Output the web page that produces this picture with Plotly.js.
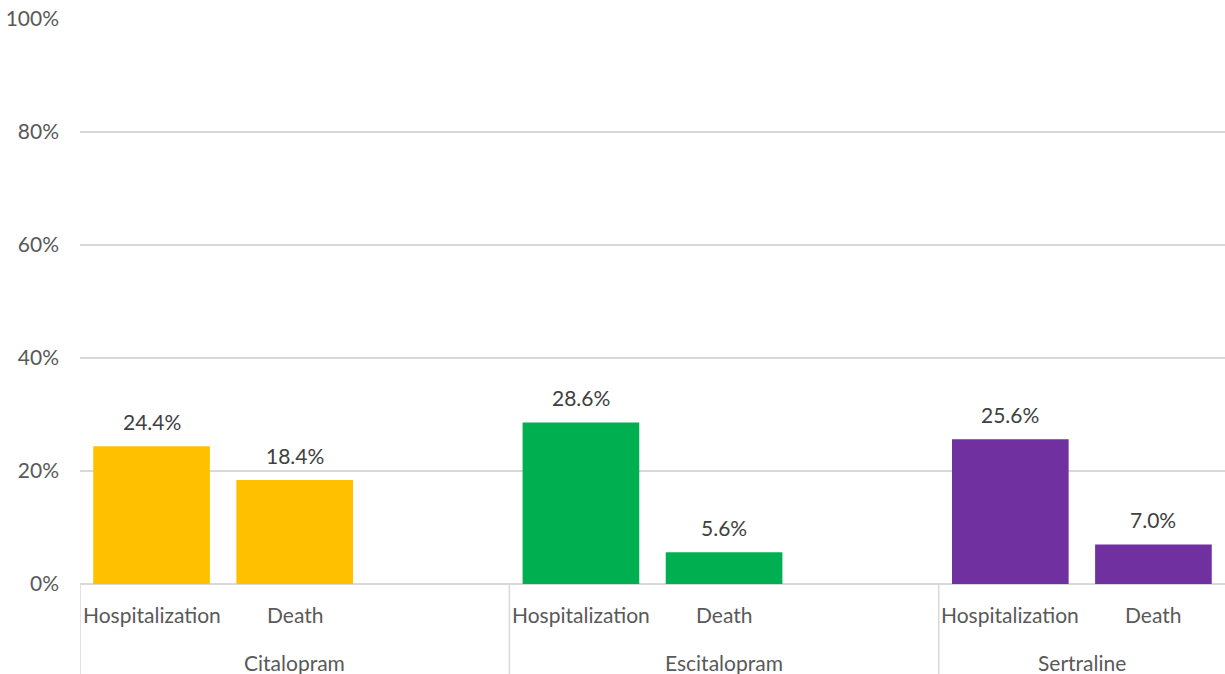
<!DOCTYPE html>
<html>
<head>
<meta charset="utf-8">
<script src="https://cdn.plot.ly/plotly-3.0.1.min.js"></script>
<style>
  html, body { margin: 0; padding: 0; background: #fff; overflow: hidden; }
  #chart { width: 1225px; height: 674px; }
</style>
</head>
<body>
<div id="chart"></div>
<script>
// Data
const drugs = ["Citalopram", "Escitalopram", "Sertraline"];
const measures = ["Hospitalization", "Death"];
const citalopram = [24.4, 18.4];
const escitalopram = [28.6, 5.6];
const sertraline = [25.6, 7.0];
const colors = ["#FFC000", "#00B050", "#7030A0"];

const seriesValues = [citalopram, escitalopram, sertraline];
const slotsPerGroup = 3; // two bars + an empty slot between groups
const FONT = "Lato, 'Open Sans', sans-serif";
const FS = 21;

const traces = [];
const annotations = [];
const shapes = [];

drugs.forEach((drug, g) => {
  const base = g * slotsPerGroup;
  const xs = measures.map((m, i) => base + i);
  traces.push({
    type: "bar",
    x: xs,
    y: seriesValues[g],
    name: drug,
    width: 0.815,
    marker: { color: colors[g] },
    showlegend: false
  });
  xs.forEach((x, i) => {
    annotations.push({
      x: x, y: seriesValues[g][i], xref: "x", yref: "y",
      text: seriesValues[g][i].toFixed(1) + "%",
      showarrow: false, yanchor: "middle", yshift: 25,
      font: { family: FONT, size: FS, color: "#404040" }
    });
    annotations.push({
      x: x, y: 0, xref: "x", yref: "y",
      text: measures[i],
      showarrow: false, yanchor: "middle", yshift: -30,
      font: { family: FONT, size: FS, color: "#595959" }
    });
  });
  const groupEnd = (g === drugs.length - 1) ? base + measures.length - 0.5 : base + slotsPerGroup - 0.5;
  const groupCenter = ((base - 0.5) + groupEnd) / 2;
  annotations.push({
    x: groupCenter, y: 0, xref: "x", yref: "y",
    text: drug,
    showarrow: false, yanchor: "middle", yshift: -78,
    font: { family: FONT, size: FS, color: "#595959" }
  });
  shapes.push({
    type: "line", xref: "x", yref: "paper",
    x0: base - 0.5, x1: base - 0.5, y0: 0, y1: -90 / 565,
    line: { color: "#D9D9D9", width: 1.5 }
  });
});

const layout = {
  width: 1225,
  height: 674,
  margin: { l: 80, r: 0, t: 19, b: 90 },
  paper_bgcolor: "#ffffff",
  plot_bgcolor: "#ffffff",
  barmode: "overlay",
  showlegend: false,
  xaxis: {
    range: [-0.5, 7.5],
    showticklabels: false,
    showgrid: false,
    zeroline: false,
    ticks: "",
    fixedrange: true
  },
  yaxis: {
    range: [0, 100],
    tickvals: [0, 20, 40, 60, 80, 100],
    ticktext: ["0%", "20%", "40%", "60%", "80%", "100%"],
    showgrid: true,
    gridcolor: "#D9D9D9",
    gridwidth: 1.5,
    zeroline: true,
    zerolinecolor: "#D9D9D9",
    zerolinewidth: 1.5,
    ticks: "",
    ticklabelstandoff: 20,
    tickfont: { family: FONT, size: FS, color: "#595959" },
    fixedrange: true
  },
  annotations: annotations,
  shapes: shapes
};

Plotly.newPlot("chart", traces, layout, { displayModeBar: false, staticPlot: true });
</script>
</body>
</html>
